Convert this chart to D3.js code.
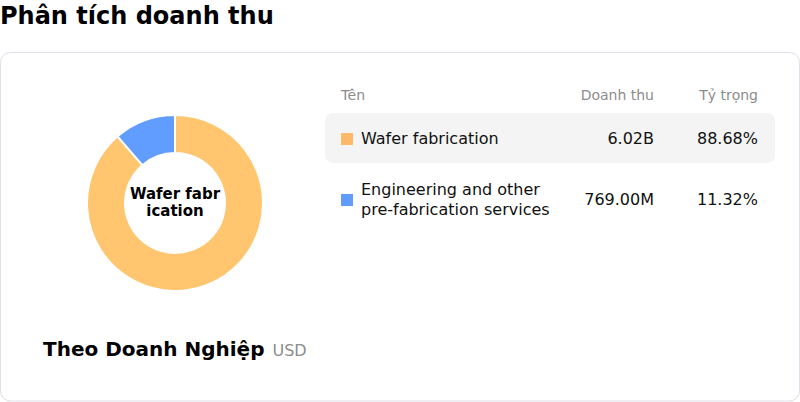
<!DOCTYPE html>
<html>
<head>
<meta charset="utf-8">
<script src="https://cdn.jsdelivr.net/npm/d3@7"></script>
<style>
  body { margin: 0; background: #fff; font-family: "DejaVu Sans", sans-serif; }
  svg { display: block; }
</style>
</head>
<body>
<svg id="chart" width="800" height="402"></svg>
<script>
const segments = ['Wafer fabrication', 'Engineering and other pre-fabrication services'];
const segmentLines = [['Wafer fabrication'], ['Engineering and other', 'pre-fabrication services']];
const revenues = [6.02e9, 769.0e6];
const revenueLabels = ['6.02B', '769.00M'];
const shares = [88.68, 11.32];
const pieColors = ['#FFC56F', '#619DFF'];
const swatchColors = ['#FDB967', '#619DFF'];

const svg = d3.select('#chart');

// page title
svg.append('text')
  .attr('x', 0).attr('y', 24)
  .attr('font-size', 24).attr('font-weight', 'bold').attr('fill', '#000')
  .text('Phân tích doanh thu');

// card
svg.append('rect')
  .attr('x', 0.5).attr('y', 52.5).attr('width', 799).attr('height', 348.5)
  .attr('rx', 10).attr('fill', '#fff').attr('stroke', '#dedde8');

// donut
const pie = d3.pie().sort(null).value(d => d);
const arc = d3.arc().innerRadius(50).outerRadius(88);
const g = svg.append('g').attr('transform', 'translate(175,203)');

g.selectAll('path')
  .data(pie(revenues))
  .join('path')
  .attr('d', arc)
  .attr('fill', (d, i) => pieColors[i])
  .attr('stroke', '#fff')
  .attr('stroke-width', 2);

// center label, wrapped like the original
const center = g.append('text')
  .attr('text-anchor', 'middle').attr('font-size', 15).attr('font-weight', 'bold').attr('fill', '#000');
center.append('tspan').attr('x', 0).attr('y', -4).text('Wafer fabr');
center.append('tspan').attr('x', 0).attr('y', 13).text('ication');

// footer
const foot = svg.append('text').attr('x', 43).attr('y', 356);
foot.append('tspan').attr('font-size', 20).attr('font-weight', 'bold').attr('fill', '#000').text('Theo Doanh Nghiệp');
foot.append('tspan').attr('dx', 8).attr('font-size', 16).attr('fill', '#8c8c8c').text('USD');

// table
const header = svg.append('g').attr('font-size', 14).attr('fill', '#8c8c8c');
header.append('text').attr('x', 341).attr('y', 100).text('Tên');
header.append('text').attr('x', 654).attr('y', 100).attr('text-anchor', 'end').text('Doanh thu');
header.append('text').attr('x', 758).attr('y', 100).attr('text-anchor', 'end').text('Tỷ trọng');

const rowY = d3.scalePoint().domain(segments).range([138, 199]);

svg.append('rect')
  .attr('x', 325).attr('y', 113).attr('width', 450).attr('height', 50)
  .attr('rx', 8).attr('fill', '#f4f4f4');

const rows = svg.selectAll('g.row')
  .data(segments)
  .join('g')
  .attr('class', 'row')
  .attr('transform', d => `translate(0,${rowY(d)})`);

rows.append('rect')
  .attr('x', 341).attr('y', -5).attr('width', 12).attr('height', 12)
  .attr('fill', (d, i) => swatchColors[i]);

rows.append('text')
  .attr('font-size', 16).attr('fill', '#111')
  .each(function(d, i) {
    const lines = segmentLines[i];
    const t = d3.select(this);
    lines.forEach((l, j) => {
      t.append('tspan').attr('x', 361)
        .attr('y', 6 + (j - (lines.length - 1) / 2) * 20)
        .text(l);
    });
  });

rows.append('text')
  .attr('x', 654).attr('y', 6).attr('text-anchor', 'end')
  .attr('font-size', 16).attr('fill', '#111')
  .text((d, i) => revenueLabels[i]);

rows.append('text')
  .attr('x', 758).attr('y', 6).attr('text-anchor', 'end')
  .attr('font-size', 16).attr('fill', '#111')
  .text((d, i) => shares[i].toFixed(2) + '%');
</script>
</body>
</html>
